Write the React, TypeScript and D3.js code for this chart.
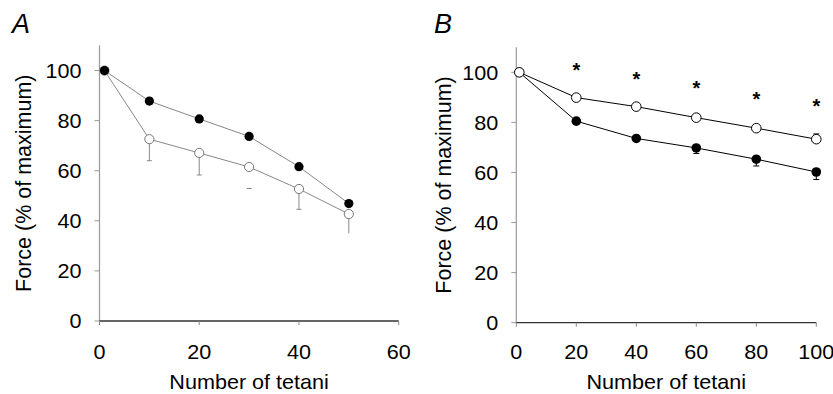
import React from "react";
import * as d3 from "d3";

// Panel A data
const aX = [1, 10, 20, 30, 40, 50];
const aFilled = [100, 87.8, 80.7, 73.7, 61.6, 46.9];
const aOpen = [100, 72.6, 67.1, 61.5, 52.7, 42.7];
const aOpenLower = [100, 64.0, 58.3, 52.9, 44.6, 35.0];
const aOpenStem = [false, true, true, false, true, true];
const aOpenCap = [false, true, true, true, true, false];
const aXTicks = [0, 20, 40, 60];

// Panel B data
const bX = [1, 20, 40, 60, 80, 100];
const bOpen = [100, 89.9, 86.3, 81.9, 77.7, 73.3];
const bOpenUpper = [100, 89.9, 86.3, 81.9, 77.7, 75.4];
const bFilled = [100, 80.5, 73.6, 69.8, 65.3, 60.2];
const bFilledLower = [100, 80.5, 73.6, 67.6, 62.6, 57.2];
const bStarX = [20, 40, 60, 80, 100];
const bStarY = [102.5, 98.8, 95.5, 91.0, 88.0];
const bXTicks = [0, 20, 40, 60, 80, 100];

const yTicks = [0, 20, 40, 60, 80, 100];

const FONT = "Liberation Sans, Arial, sans-serif";
const SX = 1.08;

type PanelProps = {
  label: string;
  x0: number;
  x1: number;
  xMax: number;
  xTicks: number[];
  children: (x: d3.ScaleLinear<number, number>, y: d3.ScaleLinear<number, number>) => React.ReactNode;
  labelX: number;
  yLabelX: number;
  yTop: number;
  y0: number;
};

function HText(props: { x: number; y: number; anchor: string; size: number; dy?: string; children: React.ReactNode }) {
  return (
    <text
      transform={`translate(${props.x},${props.y}) scale(${SX},1)`}
      dy={props.dy}
      textAnchor={props.anchor}
      fontFamily={FONT}
      fontSize={props.size}
    >
      {props.children}
    </text>
  );
}

function Panel({ label, x0, x1, xMax, xTicks, children, labelX, yLabelX, yTop, y0 }: PanelProps) {
  const x = d3.scaleLinear().domain([0, xMax]).range([x0, x1]);
  const y = d3.scaleLinear().domain([0, 110]).range([y0, yTop]);
  return (
    <g>
      <text x={labelX} y={33} fontFamily={FONT} fontStyle="italic" fontSize={27}>{label}</text>
      {/* y axis */}
      <line x1={x0} x2={x0} y1={y(110)} y2={y(0)} stroke="#999" strokeWidth={1.2} />
      {yTicks.map((t) => (
        <g key={t}>
          <line x1={x0 - 5} x2={x0} y1={y(t)} y2={y(t)} stroke="#999" strokeWidth={1} />
          <HText x={x0 - 18} y={y(t)} dy="0.36em" anchor="end" size={20}>{t}</HText>
        </g>
      ))}
      {/* x axis */}
      <line x1={x0} x2={x1} y1={y(0)} y2={y(0)} stroke="#333" strokeWidth={1.3} />
      {xTicks.map((t) => (
        <g key={t}>
          <line x1={x(t)} x2={x(t)} y1={y(0)} y2={y(0) + 4} stroke="#888" strokeWidth={1} />
          <HText x={x(t)} y={359} anchor="middle" size={20}>{t}</HText>
        </g>
      ))}
      <HText x={(x0 + x1) / 2} y={389} anchor="middle" size={20}>Number of tetani</HText>
      <text
        transform={`translate(${yLabelX},${(y(0) + y(110)) / 2}) rotate(-90)`}
        textAnchor="middle"
        fontFamily={FONT}
        fontSize={21.5}
      >
        Force (% of maximum)
      </text>
      {children(x, y)}
    </g>
  );
}

export default function App() {
  return (
    <svg width={833} height={394} style={{ position: "absolute", left: 0, top: 0, background: "#fff" }}>
      <rect width={833} height={394} fill="#fff" />
      <Panel label="A" x0={99.5} x1={398.7} xMax={60} xTicks={aXTicks} labelX={12} yLabelX={31} yTop={45.5} y0={321}>
        {(x, y) => {
          const line = d3.line<number>().x((_, i) => x(aX[i])).y((v) => y(v));
          return (
            <g>
              {aX.map((v, i) => (
                <g key={"e" + i}>
                  {aOpenStem[i] && (
                    <line x1={x(v)} x2={x(v)} y1={y(aOpen[i])} y2={y(aOpenLower[i])} stroke="#888" strokeWidth={1} />
                  )}
                  {aOpenCap[i] && (
                    <line x1={x(v) - 2.5} x2={x(v) + 2.5} y1={y(aOpenLower[i])} y2={y(aOpenLower[i])} stroke="#888" strokeWidth={1} />
                  )}
                </g>
              ))}
              <path d={line(aOpen) || ""} fill="none" stroke="#888" strokeWidth={1} />
              <path d={line(aFilled) || ""} fill="none" stroke="#888" strokeWidth={1} />
              {aX.map((v, i) => (
                <circle key={"o" + i} cx={x(v)} cy={y(aOpen[i])} r={4.6} fill="#fff" stroke="#777" strokeWidth={1} />
              ))}
              {aX.map((v, i) => (
                <circle key={"f" + i} cx={x(v)} cy={y(aFilled[i])} r={4.6} fill="#000" />
              ))}
            </g>
          );
        }}
      </Panel>
      <Panel label="B" x0={516.3} x1={816.3} xMax={100} xTicks={bXTicks} labelX={434} yLabelX={451} yTop={47.3} y0={322.7}>
        {(x, y) => {
          const line = d3.line<number>().x((_, i) => x(bX[i])).y((v) => y(v));
          return (
            <g>
              {bX.map((v, i) => (
                <g key={"e" + i}>
                  {bFilledLower[i] < bFilled[i] && (
                    <g>
                      <line x1={x(v)} x2={x(v)} y1={y(bFilled[i])} y2={y(bFilledLower[i])} stroke="#000" strokeWidth={1} />
                      <line x1={x(v) - 3} x2={x(v) + 3} y1={y(bFilledLower[i])} y2={y(bFilledLower[i])} stroke="#000" strokeWidth={1} />
                    </g>
                  )}
                  {bOpenUpper[i] > bOpen[i] && (
                    <g>
                      <line x1={x(v)} x2={x(v)} y1={y(bOpen[i])} y2={y(bOpenUpper[i])} stroke="#000" strokeWidth={1} />
                      <line x1={x(v) - 3} x2={x(v) + 3} y1={y(bOpenUpper[i])} y2={y(bOpenUpper[i])} stroke="#000" strokeWidth={1} />
                    </g>
                  )}
                </g>
              ))}
              <path d={line(bFilled) || ""} fill="none" stroke="#000" strokeWidth={1} />
              <path d={line(bOpen) || ""} fill="none" stroke="#000" strokeWidth={1} />
              {bX.map((v, i) => (
                <circle key={"f" + i} cx={x(v)} cy={y(bFilled[i])} r={4.8} fill="#000" />
              ))}
              {bX.map((v, i) => (
                <circle key={"o" + i} cx={x(v)} cy={y(bOpen[i])} r={4.8} fill="#fff" stroke="#000" strokeWidth={1} />
              ))}
              {bStarX.map((v, i) => (
                <text key={"s" + i} x={x(v)} y={y(bStarY[i]) + 11} textAnchor="middle" fontFamily={FONT} fontWeight="bold" fontSize={20}>*</text>
              ))}
            </g>
          );
        }}
      </Panel>
    </svg>
  );
}
